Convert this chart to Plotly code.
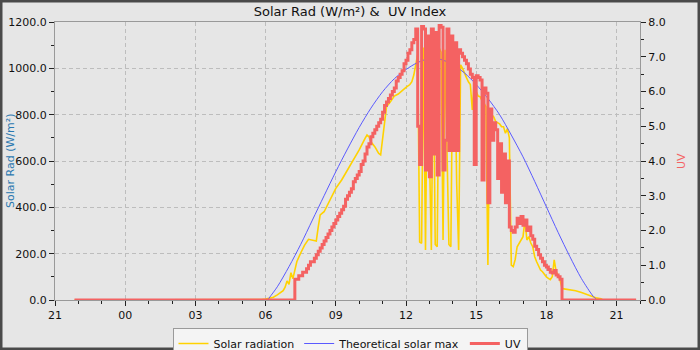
import plotly.graph_objects as go

DAY = "2024-06-11 "
START = "2024-06-10 21:50"
END = "2024-06-11 21:50"

# ---------------- data ----------------
solar_times = ["05:45","05:50","06:00","06:10","06:20","06:30","06:40","06:45","06:50","06:55",
               "07:00","07:05","07:10","07:15","07:20","07:30","07:40","07:50","08:00","08:10",
               "08:15","08:20","08:30","08:45","09:00","09:15","09:30","09:45","10:00","10:15",
               "10:20","10:25","10:30","10:40","10:45","10:50","10:55","11:00","11:05","11:10",
               "11:20","11:30","11:40","11:50","12:00","12:10","12:15","12:20","12:25","12:30",
               "12:35","12:40","12:45","12:50","12:55","13:00","13:05","13:10","13:15","13:20",
               "13:25","13:30","13:35","13:40","13:45","13:50","13:55","14:00","14:05","14:10",
               "14:15","14:20","14:25","14:30","14:35","14:40","14:45","14:50","14:55","15:00",
               "15:05","15:10","15:15","15:20","15:25","15:30","15:35","15:40","15:45","15:50",
               "15:55","16:00","16:05","16:10","16:15","16:20","16:25","16:30","16:35","16:40",
               "16:45","16:50","16:55","17:00","17:05","17:10","17:15","17:20","17:25","17:30",
               "17:35","17:40","17:45","17:50","17:55","18:00","18:05","18:10","18:15","18:20",
               "18:25","18:30","18:35","18:40","18:45","19:00","19:15","19:30","19:45","20:00",
               "20:10","20:20","20:25"]
solar_values = [0, 2, 4, 7, 12, 22, 33, 40, 55, 82,
                68, 118, 92, 128, 165, 203, 237, 262, 258, 255,
                316, 367, 381, 432, 482, 518, 561, 601, 648, 698,
                712, 705, 683, 662, 648, 633, 627, 691, 777, 834,
                856, 880, 889, 905, 918, 930, 942, 971, 1022, 1060,
                250, 245, 1090, 216, 1075, 700, 216, 1070, 240, 230,
                1088, 1070, 259, 1080, 600, 240, 230, 1088, 1040, 500,
                216, 1015, 1000, 975, 960, 942, 930, 820, 940, 900,
                880, 878, 860, 850, 834, 151, 820, 800, 790, 770,
                764, 760, 748, 748, 720, 740, 700, 151, 144, 175,
                230, 246, 259, 273, 345, 259, 273, 246, 230, 187,
                165, 144, 129, 122, 108, 100, 93, 88, 100, 173,
                122, 108, 86, 52, 48, 45, 40, 32, 22, 12,
                8, 5, 0]

theo_times = ["06:05","06:30","07:00","07:30","08:00","08:30","09:00","09:30","10:00","10:30",
              "11:00","11:30","12:00","12:30","13:00","13:30","14:00","14:30","15:00","15:30",
              "16:00","16:30","17:00","17:30","18:00","18:30","19:00","19:30","20:00","20:10"]
theo_values = [0, 57, 144, 240, 345, 450, 554, 652, 745, 828,
               899, 955, 995, 1025, 1042, 1038, 1016, 980, 930, 870,
               800, 712, 618, 512, 402, 292, 188, 92, 16, 0]

uv_times = ["07:15","07:20","07:25","07:30","07:35","07:40","07:45","07:50","07:55","08:00",
            "08:05","08:10","08:15","08:20","08:25","08:30","08:35","08:40","08:45","08:50",
            "08:55","09:00","09:05","09:10","09:15","09:20","09:25","09:30","09:35","09:40",
            "09:45","09:50","09:55","10:00","10:05","10:10","10:15","10:20","10:25","10:30",
            "10:35","10:40","10:45","10:50","10:55","11:00","11:05","11:10","11:15","11:20",
            "11:25","11:30","11:35","11:40","11:45","11:50","11:55","12:00","12:05","12:10",
            "12:15","12:20","12:25","12:30",
            "12:35","12:40","12:45","12:50","12:55","13:00","13:05","13:10","13:15","13:20",
            "13:25","13:30","13:35","13:40","13:45","13:50","13:55","14:00","14:05","14:10",
            "14:15","14:20","14:25","14:30","14:35","14:40","14:45","14:50","14:55","15:00",
            "15:05","15:10","15:15","15:20","15:25","15:30","15:35","15:40","15:45","15:50",
            "15:55","16:00","16:05","16:10","16:15","16:20","16:25","16:30","16:35","16:40",
            "16:45","16:50","16:55","17:00","17:05","17:10","17:15","17:20","17:25","17:30",
            "17:35","17:40","17:45","17:50","17:55","18:00","18:05","18:10","18:15","18:20",
            "18:25","18:30","18:35","18:40"]
uv_values = [0.6, 0.6, 0.7, 0.7, 0.8, 0.8, 0.9, 1.0, 1.1, 1.1,
             1.2, 1.3, 1.4, 1.5, 1.6, 1.7, 1.8, 1.9, 2.0, 2.1,
             2.2, 2.3, 2.4, 2.5, 2.6, 2.7, 2.9, 3.0, 3.1, 3.2,
             3.4, 3.5, 3.6, 3.7, 3.9, 4.0, 4.2, 4.4, 4.5, 4.7,
             4.8, 4.9, 5.0, 5.1, 5.2, 5.4, 5.6, 5.7, 5.8, 5.9,
             6.0, 6.1, 6.3, 6.4, 6.5, 6.6, 6.8, 6.9, 7.1, 7.2,
             7.4, 7.5, 7.8, 5.0,
             3.9, 7.87, 7.8, 3.74, 7.6, 3.55, 7.8, 4.2, 7.7, 3.6,
             7.9, 7.85, 3.74, 4.6, 7.8, 4.3, 7.6, 4.3, 7.4, 4.3,
             7.2, 7.1, 7.0, 6.9, 6.8, 6.65, 6.5, 6.4, 3.9, 6.45,
             6.4, 6.33, 3.45, 6.1, 5.95, 2.8, 5.5, 4.6, 5.1, 4.9,
             3.5, 4.5, 3.1, 4.2, 2.8, 4.0, 2.1, 2.0, 1.95, 2.1,
             2.35, 2.2, 2.4, 2.15, 2.3, 2.0, 2.1, 1.85, 1.75, 1.55,
             1.45, 1.3, 1.2, 1.1, 1.0, 0.95, 0.88, 0.8, 0.78, 0.85,
             0.72, 0.67, 0.6, 0.0]

# ---------------- build ----------------
def full(ts):
    return [DAY + t for t in ts]

sx = [START] + full(solar_times) + [END]
sy = [0] + solar_values + [0]
ux = [START] + full(uv_times) + [END]
uy = [0] + uv_values + [0]

FONT = "DejaVu Sans"
fig = go.Figure()
fig.add_trace(go.Scatter(x=sx, y=sy, name="Solar radiation", mode="lines",
                         line=dict(color="#ffd200", width=1.6)))
fig.add_trace(go.Scatter(x=full(theo_times), y=theo_values, name="Theoretical solar max",
                         mode="lines", line=dict(color="#5a5aff", width=1, shape="spline",
                                                 smoothing=0.8)))
fig.add_trace(go.Scatter(x=ux, y=uy, name="UV", mode="lines", yaxis="y2",
                         line=dict(color="#f46262", width=3, shape="hv")))

W, H = 700, 350
L, R, T, B = 55, 60, 22, 50
pw, ph = W - L - R, H - T - B

fig.update_layout(
    width=W, height=H,
    margin=dict(l=L, r=R, t=T, b=B, pad=0, autoexpand=False),
    paper_bgcolor="#e6e6e6", plot_bgcolor="#e6e6e6",
    font=dict(family=FONT, size=11, color="#111"),
    title=dict(text="Solar Rad (W/m²) &\u00a0 UV Index", x=0.5, xanchor="center",
               y=1 - 11 / H, yanchor="middle", font=dict(family=FONT, size=13, color="#111")),
    showlegend=True,
    legend=dict(orientation="h", x=(350 - L) / pw, xanchor="center", y=-28 / ph, yanchor="top",
                bgcolor="#f4f4f4", bordercolor="#9a9a9a", borderwidth=1,
                font=dict(family=FONT, size=11, color="#111"), itemwidth=30,
                tracegroupgap=0),
    xaxis=dict(type="date", range=["2024-06-10 21:00", "2024-06-11 22:00"],
               tick0="2024-06-10 21:00", dtick=3 * 3600 * 1000, tickformat="%H",
               ticks="outside", ticklen=5, tickcolor="#222", tickwidth=1,
               showline=True, linecolor="#999", linewidth=1, mirror=True,
               showgrid=True, gridcolor="#bdbdbd", griddash="4px,3px", gridwidth=1,
               zeroline=False, tickfont=dict(size=11),
               minor=dict(dtick=3600 * 1000, tick0="2024-06-10 21:00", ticks="outside",
                          ticklen=3, tickcolor="#222", showgrid=False)),
    yaxis=dict(range=[0, 1200], dtick=200, tickformat=".1f",
               ticks="outside", ticklen=5, tickcolor="#222",
               showline=True, linecolor="#999", linewidth=1,
               showgrid=True, gridcolor="#bdbdbd", griddash="4px,3px", zeroline=False,
               minor=dict(dtick=100, ticks="outside", ticklen=3, tickcolor="#222", showgrid=False)),
    yaxis2=dict(range=[0, 8], dtick=1, tickformat=".1f", overlaying="y", side="right",
                ticks="outside", ticklen=5, tickcolor="#222",
                showline=True, linecolor="#999", linewidth=1, showgrid=False, zeroline=False,
                minor=dict(dtick=0.5, ticks="outside", ticklen=3, tickcolor="#222")),
    annotations=[
        dict(text="Solar Rad (W/m²)", xref="paper", yref="paper", x=(10 - L) / pw, y=0.5,
             xanchor="center", yanchor="middle", textangle=-90, showarrow=False,
             font=dict(family=FONT, size=11, color="#2a78b0")),
        dict(text="UV", xref="paper", yref="paper", x=(681 - L) / pw, y=0.5,
             xanchor="center", yanchor="middle", textangle=-90, showarrow=False,
             font=dict(family=FONT, size=11, color="#f46262")),
    ],
    shapes=[dict(type="rect", xref="paper", yref="paper", layer="above",
                 x0=-L / pw, x1=(W - L) / pw, y0=-B / ph, y1=1 + T / ph,
                 line=dict(color="#4a4a4a", width=5), fillcolor="rgba(0,0,0,0)")],
)

fig.write_html("out.html")
